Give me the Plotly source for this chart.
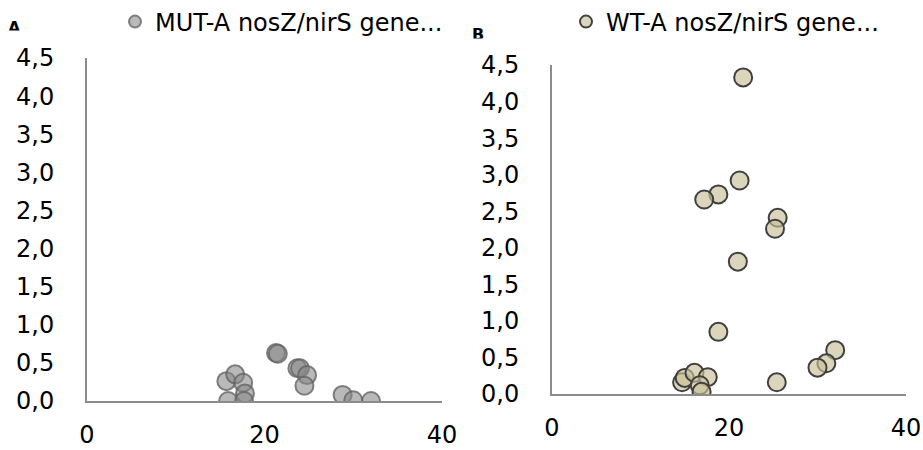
import plotly.graph_objects as go

# ---- data ----
mut_name = "MUT-A nosZ/nirS gene..."
mut_x = [15.7, 16.7, 17.6, 17.8, 15.9, 17.7, 21.3, 21.5, 23.7, 24.0, 24.8, 24.5, 28.8, 30.0, 32.0]
mut_y = [0.26, 0.35, 0.24, 0.10, 0.00, 0.00, 0.63, 0.62, 0.43, 0.43, 0.34, 0.20, 0.08, 0.01, 0.00]

wt_name = "WT-A nosZ/nirS gene..."
wt_x = [21.6, 21.2, 18.8, 17.2, 25.5, 25.2, 21.0, 18.8, 32.0, 31.0, 30.0, 25.4, 14.7, 15.0, 16.1, 17.6, 16.7, 16.9]
wt_y = [4.33, 2.92, 2.73, 2.66, 2.41, 2.26, 1.81, 0.85, 0.60, 0.42, 0.36, 0.16, 0.16, 0.22, 0.29, 0.23, 0.12, 0.03]

x_ticks = [0, 20, 40]
y_ticks = [0, 0.5, 1.0, 1.5, 2.0, 2.5, 3.0, 3.5, 4.0, 4.5]

W, H = 923, 450
FONT = "DejaVu Sans"
FS = 24

fig = go.Figure()
fig.add_trace(go.Scatter(
    x=mut_x, y=mut_y, mode="markers", name=mut_name,
    marker=dict(size=18, color="rgba(135,135,135,0.58)",
                line=dict(color="rgba(100,100,100,0.8)", width=2)),
    xaxis="x", yaxis="y", legend="legend"))
fig.add_trace(go.Scatter(
    x=wt_x, y=wt_y, mode="markers", name=wt_name,
    marker=dict(size=18, color="rgba(200,192,150,0.65)",
                line=dict(color="#404040", width=2)),
    xaxis="x2", yaxis="y2", legend="legend2"))

def xa(domain, anchor):
    return dict(domain=domain, anchor=anchor, range=[0, 40], tickvals=x_ticks,
                showgrid=False, zeroline=False, showline=True, linecolor="#8c8c8c",
                linewidth=2, ticks="", ticklabelstandoff=11, automargin=False,
                tickfont=dict(family=FONT, size=FS, color="black"), fixedrange=True)

def ya(domain, anchor):
    return dict(domain=domain, anchor=anchor, range=[0, 4.5], tickvals=y_ticks,
                tickformat=".1f", showgrid=False, zeroline=False, showline=True,
                linecolor="#8c8c8c", linewidth=2, ticks="", ticklabelstandoff=26,
                automargin=False,
                tickfont=dict(family=FONT, size=FS, color="black"), fixedrange=True)

fig.update_layout(
    width=W, height=H, margin=dict(l=0, r=0, t=0, b=0, autoexpand=False),
    paper_bgcolor="white", plot_bgcolor="white",
    separators=",.",
    font=dict(family=FONT, size=FS, color="black"),
    xaxis=xa([87 / W, 442 / W], "y"),
    yaxis=ya([1 - 401 / H, 1 - 58 / H], "x"),
    xaxis2=xa([552 / W, 906 / W], "y2"),
    yaxis2=ya([1 - 394 / H, 1 - 65 / H], "x2"),
    legend=dict(x=115 / W, y=1 - 22 / H, xanchor="left", yanchor="middle",
                bgcolor="rgba(0,0,0,0)", itemsizing="constant",
                font=dict(family=FONT, size=FS, color="black")),
    legend2=dict(x=566 / W, y=1 - 22 / H, xanchor="left", yanchor="middle",
                 bgcolor="rgba(0,0,0,0)", itemsizing="constant",
                 font=dict(family=FONT, size=FS, color="black")),
    showlegend=True,
)

# clipped panel letters (only the top of each letter is visible in the reference)
def letter(txt, cx, cy):
    fig.add_annotation(text="<b>%s</b>" % txt, x=cx / W, y=1 - cy / H, xref="paper", yref="paper",
                       xanchor="center", yanchor="middle", showarrow=False,
                       font=dict(family=FONT, size=16, color="black"))
    fig.add_annotation(text=" ", x=cx / W, y=1 - (cy + 3) / H, xref="paper", yref="paper",
                       xanchor="center", yanchor="top", showarrow=False,
                       width=22, height=14, borderpad=0, bgcolor="white")

letter("A", 15, 27)
letter("B", 478, 35)

fig.write_html("out.html")
